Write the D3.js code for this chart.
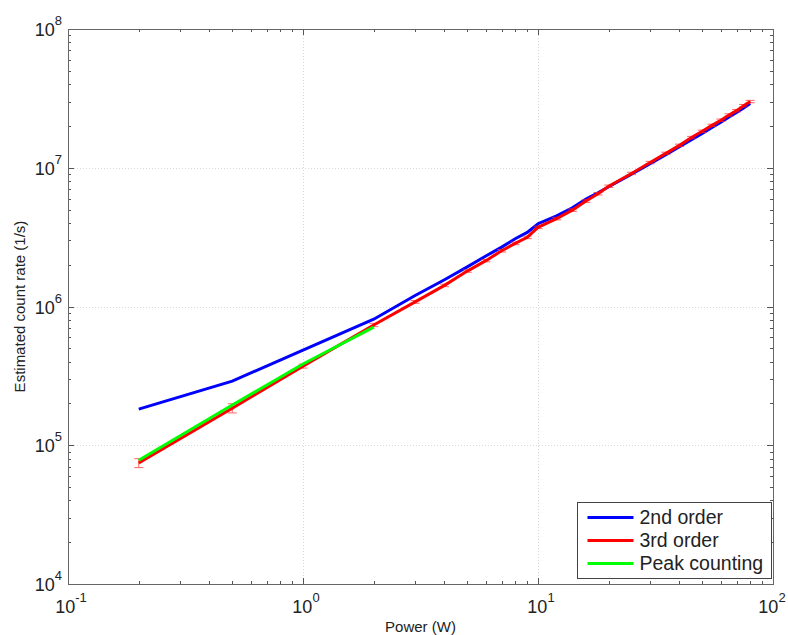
<!DOCTYPE html>
<html>
<head>
<meta charset="utf-8">
<script src="https://cdn.jsdelivr.net/npm/d3@7"></script>
<style>
  body { margin: 0; background: #fff; }
  svg { font-family: "Liberation Sans", Arial, sans-serif; }
</style>
</head>
<body>
<div id="chart"></div>
<script>
"use strict";

// Measured power points (W)
const power = [0.2, 0.5, 1, 2, 3, 4, 5, 6, 7, 8, 9, 10, 12, 14, 16, 18, 20,
               25, 30, 35, 40, 45, 50, 55, 60, 65, 70, 75, 80];

// 2nd order estimate (1/s)
const second_order = [1.82e5, 2.9e5, 4.85e5, 8.1e5, 1.2e6, 1.56e6, 1.93e6, 2.31e6,
                      2.68e6, 3.08e6, 3.42e6, 3.95e6, 4.5e6, 5.15e6, 5.95e6, 6.6e6,
                      7.3e6, 9.0e6, 1.07e7, 1.24e7, 1.42e7, 1.59e7, 1.77e7, 1.95e7,
                      2.13e7, 2.32e7, 2.5e7, 2.7e7, 2.9e7];

// 3rd order estimate (1/s) and its error
const third_order = [7.45e4, 1.85e5, 3.72e5, 7.36e5, 1.08e6, 1.42e6, 1.8e6, 2.14e6,
                     2.52e6, 2.85e6, 3.15e6, 3.72e6, 4.3e6, 4.95e6, 5.75e6, 6.5e6,
                     7.35e6, 9.1e6, 1.09e7, 1.27e7, 1.45e7, 1.65e7, 1.83e7, 2.02e7,
                     2.2e7, 2.4e7, 2.58e7, 2.8e7, 3.0e7];
const third_err = [5.5e3, 1.4e4, 1.2e4, 2.0e4, 2.5e4, 3.0e4, 3.5e4, 4.0e4,
                   5.0e4, 6.0e4, 6.5e4, 7.5e4, 9.0e4, 1.0e5, 1.2e5, 1.3e5,
                   1.5e5, 1.8e5, 2.2e5, 2.5e5, 2.9e5, 3.3e5, 3.7e5, 4.0e5,
                   4.4e5, 4.8e5, 5.2e5, 5.6e5, 6.0e5];

// Peak counting (1/s)
const peak_power = [0.2, 0.5, 1, 2];
const peak_counting = [7.8e4, 1.95e5, 3.85e5, 7.1e5];

const x_decades = [-1, 0, 1, 2];
const y_decades = [4, 5, 6, 7, 8];

const series = [
  {name: "2nd order", color: "#0000ff"},
  {name: "3rd order", color: "#ff0000"},
  {name: "Peak counting", color: "#00ff00"}
];

const width = 788, height = 635;
const margin = {left: 68, right: 15, top: 29, bottom: 51};

let svg = d3.select("#chart").append("svg")
  .attr("width", width)
  .attr("height", height);

let x = d3.scaleLog()
  .domain([0.1, 100])
  .range([margin.left, width - margin.right]);
let y = d3.scaleLog()
  .domain([1e4, 1e8])
  .range([height - margin.bottom, margin.top]);

let x0 = x.range()[0], x1 = x.range()[1];
let y0 = y.range()[0], y1 = y.range()[1];

// Grid on the decades
let grid = svg.append("g")
  .attr("stroke", "#d9d9d9")
  .attr("stroke-width", 1)
  .attr("stroke-dasharray", "1,2");
x_decades.slice(1, -1).forEach(function(d) {
  grid.append("line")
    .attr("x1", Math.round(x(Math.pow(10, d))) + 0.5)
    .attr("x2", Math.round(x(Math.pow(10, d))) + 0.5)
    .attr("y1", y1).attr("y2", y0);
});
y_decades.slice(1, -1).forEach(function(d) {
  grid.append("line")
    .attr("y1", Math.round(y(Math.pow(10, d))) + 0.5)
    .attr("y2", Math.round(y(Math.pow(10, d))) + 0.5)
    .attr("x1", x0).attr("x2", x1);
});

// Ticks (inside, on all four sides)
let ticks = svg.append("g").attr("stroke", "#555").attr("stroke-width", 1);
function minorValues(decades) {
  let out = [];
  for (let i = 0; i < decades.length - 1; i++) {
    for (let m = 2; m <= 9; m++) out.push(m * Math.pow(10, decades[i]));
  }
  return out;
}
function drawXTicks(values, len) {
  values.forEach(function(v) {
    let px = Math.round(x(v)) + 0.5;
    ticks.append("line").attr("x1", px).attr("x2", px).attr("y1", y0).attr("y2", y0 - len);
    ticks.append("line").attr("x1", px).attr("x2", px).attr("y1", y1).attr("y2", y1 + len);
  });
}
function drawYTicks(values, len) {
  values.forEach(function(v) {
    let py = Math.round(y(v)) + 0.5;
    ticks.append("line").attr("y1", py).attr("y2", py).attr("x1", x0).attr("x2", x0 + len);
    ticks.append("line").attr("y1", py).attr("y2", py).attr("x1", x1).attr("x2", x1 - len);
  });
}
drawXTicks(x_decades.map(d => Math.pow(10, d)), 6);
drawXTicks(minorValues(x_decades), 3);
drawYTicks(y_decades.map(d => Math.pow(10, d)), 6);
drawYTicks(minorValues(y_decades), 3);

// Axes box
svg.append("rect")
  .attr("x", x0 + 0.5).attr("y", y1 + 0.5)
  .attr("width", x1 - x0).attr("height", y0 - y1)
  .attr("fill", "none")
  .attr("stroke", "#666")
  .attr("stroke-width", 1);

// Tick labels as 10^n
function powerLabel(g, d) {
  g.append("tspan").text("10");
  g.append("tspan").attr("dy", -11).attr("font-size", 13).text(d);
}
x_decades.forEach(function(d, i) {
  let t = svg.append("text")
    .attr("x", x(Math.pow(10, d)) + (i == x_decades.length - 1 ? -1 : 3))
    .attr("y", y0 + 29)
    .attr("text-anchor", "middle")
    .attr("font-size", 18)
    .attr("fill", "#222");
  powerLabel(t, d);
});
y_decades.forEach(function(d) {
  let t = svg.append("text")
    .attr("x", x0 - 6)
    .attr("y", y(Math.pow(10, d)) + 7)
    .attr("text-anchor", "end")
    .attr("font-size", 18)
    .attr("fill", "#222");
  powerLabel(t, d);
});

// Axis titles
svg.append("text")
  .attr("x", (x0 + x1) / 2)
  .attr("y", 632)
  .attr("text-anchor", "middle")
  .attr("font-size", 15)
  .attr("fill", "#222")
  .text("Power (W)");
svg.append("text")
  .attr("transform", "translate(25," + ((y0 + y1) / 2) + ") rotate(-90)")
  .attr("text-anchor", "middle")
  .attr("font-size", 15)
  .attr("fill", "#222")
  .text("Estimated count rate (1/s)");

// Curves
let line = d3.line()
  .x(d => x(d[0]))
  .y(d => y(d[1]));

let plot = svg.append("g");

plot.append("path")
  .datum(d3.zip(power, second_order))
  .attr("d", line)
  .attr("fill", "none")
  .attr("stroke", series[0].color)
  .attr("stroke-width", 3);

// Error bars of the 3rd order estimate
let eb = plot.append("g")
  .attr("stroke", "#ff3030")
  .attr("stroke-width", 1)
  .attr("opacity", 0.75);
power.forEach(function(p, i) {
  let px = x(p);
  let lo = y(third_order[i] - third_err[i]);
  let hi = y(third_order[i] + third_err[i]);
  eb.append("line").attr("x1", px).attr("x2", px).attr("y1", lo).attr("y2", hi);
  eb.append("line").attr("x1", px - 4.5).attr("x2", px + 4.5).attr("y1", lo).attr("y2", lo);
  eb.append("line").attr("x1", px - 4.5).attr("x2", px + 4.5).attr("y1", hi).attr("y2", hi);
});

plot.append("path")
  .datum(d3.zip(power, third_order))
  .attr("d", line)
  .attr("fill", "none")
  .attr("stroke", series[1].color)
  .attr("stroke-width", 3);

plot.append("path")
  .datum(d3.zip(peak_power, peak_counting))
  .attr("d", line)
  .attr("fill", "none")
  .attr("stroke", series[2].color)
  .attr("stroke-width", 3);

// Legend
let lg = svg.append("g").attr("transform", "translate(577.5,502.5)");
lg.append("rect")
  .attr("width", 194).attr("height", 76)
  .attr("fill", "#fff")
  .attr("stroke", "#444")
  .attr("stroke-width", 1);
series.forEach(function(s, i) {
  let ly = 15 + i * 23;
  lg.append("line")
    .attr("x1", 10).attr("x2", 56)
    .attr("y1", ly).attr("y2", ly)
    .attr("stroke", s.color)
    .attr("stroke-width", 3);
  lg.append("text")
    .attr("x", 62).attr("y", ly + 6.5)
    .attr("font-size", 19.5)
    .attr("fill", "#222")
    .text(s.name);
});
</script>
</body>
</html>
